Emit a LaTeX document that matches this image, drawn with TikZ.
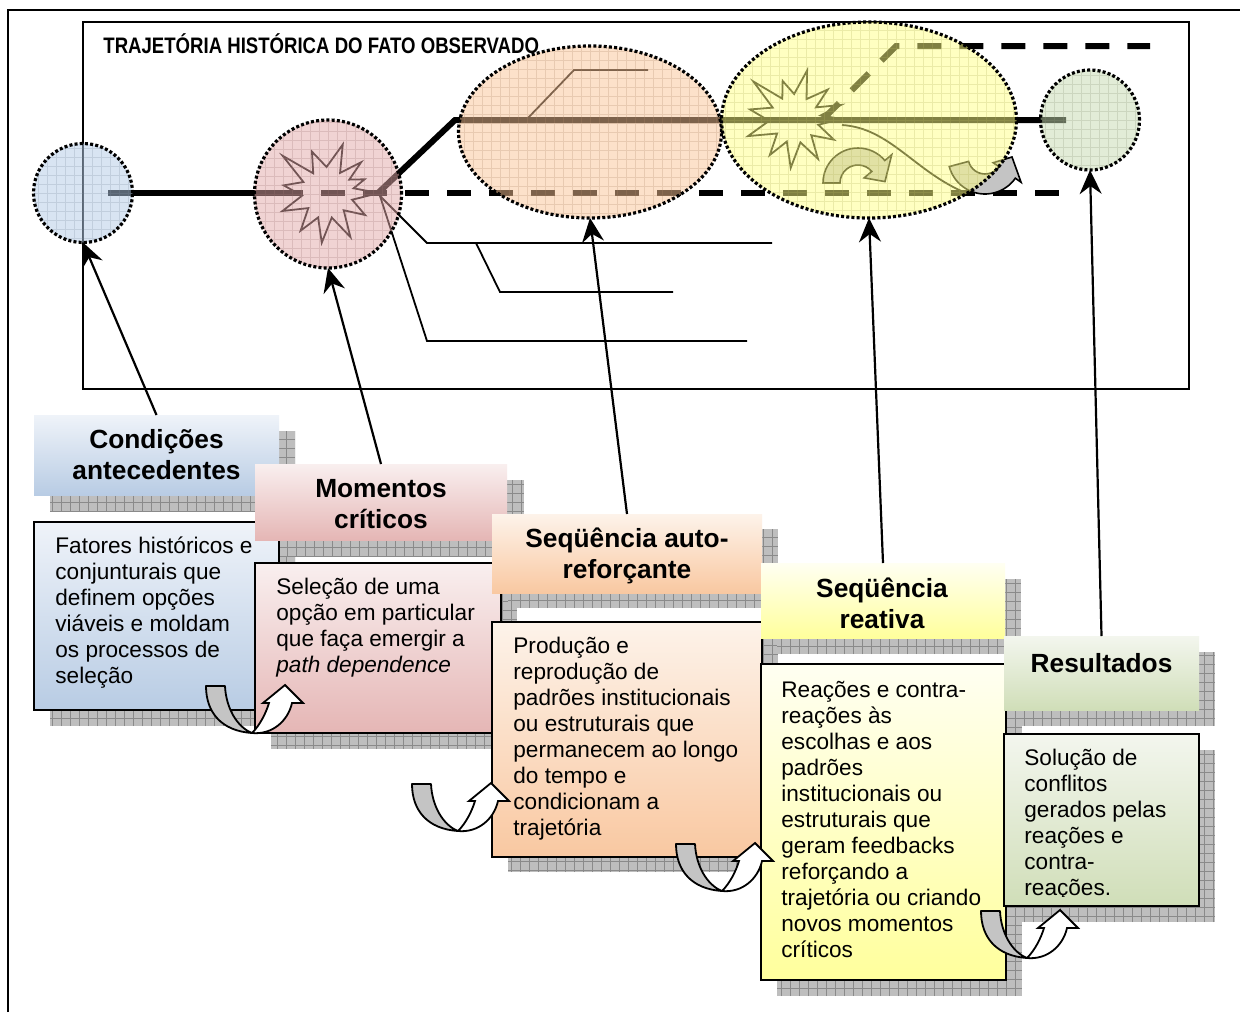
\documentclass[tikz,border=0pt]{standalone}
\usepackage{fontspec}
\setmainfont{Liberation Sans}
\usetikzlibrary{shapes.geometric,arrows.meta}

% bubble base colours (drawn half transparent)
\definecolor{bubBlue}{HTML}{B3CAE6}
\definecolor{bubPink}{HTML}{E3A9A9}
\definecolor{bubOrange}{HTML}{FAC496}
\definecolor{bubYellow}{HTML}{FFFF85}
\definecolor{bubGreen}{HTML}{C7DAB0}
% box gradients
\definecolor{blueTop}{HTML}{EFF3F9}\definecolor{blueBot}{HTML}{B8CCE4}
\definecolor{pinkTop}{HTML}{F9EFEF}\definecolor{pinkBot}{HTML}{E5B6B5}
\definecolor{orTop}{HTML}{FDF3EA}\definecolor{orBot}{HTML}{F9C8A1}
\definecolor{yelTop}{HTML}{FFFFF2}\definecolor{yelBot}{HTML}{FFFF9C}
\definecolor{grTop}{HTML}{F3F6EE}\definecolor{grBot}{HTML}{D0DEB8}
% shadows and arrows
\definecolor{shadowGray}{HTML}{BEBEBE}
\definecolor{shadowGrid}{HTML}{8A8A8A}
\definecolor{arrowGray}{HTML}{C4C4C4}

\newcommand\stackL[1]{\begin{tabular}[t]{@{}l@{}}#1\end{tabular}}
\newcommand\stackC[1]{\begin{tabular}[t]{@{}c@{}}#1\end{tabular}}

% U-shaped turning arrow whose lowest point is at (#1,#2)
\newcommand\turnarrow[2]{%
  \begin{scope}[shift={(#1,#2)}]
    \filldraw[fill=arrowGray,line width=0.9pt,line join=round]
      (-46,-47) .. controls (-46,-20) and (-30,-2) .. (0,0)
      .. controls (-15,-6) and (-26,-25) .. (-27,-47) -- cycle;
    \filldraw[fill=white,line width=0.9pt,line join=miter]
      (0,0) .. controls (8,-8) and (14,-20) .. (17,-30) -- (11,-30) -- (33,-48)
      -- (51,-30) -- (40,-30) .. controls (36,-12) and (20,2) .. (0,0) -- cycle;
  \end{scope}}

\begin{document}
\begin{tikzpicture}[x=0.5pt,y=-0.5pt,
  traj/.style={line width=3pt},
  dashtraj/.style={line width=3pt,dash pattern=on 12pt off 9pt},
  thinline/.style={line width=0.9pt},
  burst/.style={line width=0.9pt,line join=miter},
  conn/.style={line width=1.1pt,-{Stealth[length=12pt,width=11pt,inset=4pt]}},
  bubble/.style={ellipse,inner sep=0pt,outer sep=0pt,draw=black,line width=1.6pt,
    dash pattern=on 1.5pt off 1.1pt,fill=#1,fill opacity=0.5,
    path picture={\draw[#1!70!black,draw opacity=0.25,line width=0.3pt,solid,step=4.5pt]
      (path picture bounding box.south west) grid (path picture bounding box.north east);}},
  shadowbox/.style={fill=shadowGray,
    path picture={\draw[shadowGrid,line width=0.35pt,step=4.5pt]
      (path picture bounding box.south west) grid (path picture bounding box.north east);}},
  hdr/.style 2 args={rectangle,inner sep=0pt,outer sep=0pt,top color=#1,bottom color=#2,draw=none},
  bodybox/.style 2 args={rectangle,inner sep=0pt,outer sep=0pt,top color=#1,bottom color=#2,
    draw=black,line width=1.3pt},
  hdtext/.style={anchor=base,inner sep=0pt,font=\fontsize{13.15}{15.5}\selectfont\bfseries},
  bdtext/.style={anchor=base west,inner sep=0pt,font=\fontsize{11.3}{13}\selectfont}
]
\useasboundingbox (0,0) rectangle (1240,1012);
\fill[white] (0,0) rectangle (1240,1012);

% frames
\draw[line width=1.3pt] (8,1012) -- (8,10) -- (1240,10);
\draw[line width=1pt] (83,22) rectangle (1189,389);
\node[anchor=base west,inner sep=0pt,font=\fontsize{11.2}{13}\selectfont\bfseries] (title)
  at (103,53) {\scalebox{0.83}[1]{TRAJETÓRIA HISTÓRICA DO FATO OBSERVADO}};

% trajectory lines
\draw[traj] (108,193) -- (303,193);
\draw[dashtraj] (321,193) -- (1060,193);
\draw[traj,line join=miter] (378,193) -- (455,120) -- (1066,120);
\draw[dashtraj] (822,120) -- (896,46) -- (1150,46);
\draw[thinline] (527,119) -- (574,70) -- (648,70);
\draw[thinline] (842,125) .. controls (890,128) and (915,172) .. (966,193);

% explosions
\draw[burst,shift={(327,193)}] (0:52) -- (15:26) -- (30:44) -- (46:24) -- (62:50) -- (79:25)
  -- (96:50) -- (110:26) -- (125:46) -- (141:24) -- (158:48) -- (174:25) -- (190:44)
  -- (205:26) -- (220:58) -- (235:24) -- (250:44) -- (269:26) -- (288:51) -- (303:24)
  -- (318:46) -- (329:26) -- (340:40) -- (350:27) -- cycle;
\draw[burst,shift={(795,119)}] (0:46) -- (14:24) -- (28:44) -- (45:23) -- (60:46) -- (77:24)
  -- (95:49) -- (110:24) -- (125:44) -- (141:23) -- (160:50) -- (176:26) -- (192:46)
  -- (207:25) -- (222:56) -- (238:24) -- (252:40) -- (268:25) -- (284:50) -- (300:23)
  -- (318:44) -- (331:24) -- (343:48) -- (352:26) -- cycle;

% curved block arrows
\filldraw[fill=arrowGray,line width=0.8pt,line join=miter,shift={(858,183)}]
  (180:35) arc[start angle=180,end angle=320,radius=35] -- (320:44) -- (357:27)
  -- (320:8) -- (320:18) arc[start angle=320,end angle=180,radius=18] -- cycle;
\filldraw[fill=arrowGray,line width=0.8pt,line join=miter,shift={(985,157)}]
  (165:37) arc[start angle=165,end angle=35,radius=37] -- (35:44) -- (0:27)
  -- (35:10) -- (35:17) arc[start angle=35,end angle=165,radius=17] -- cycle;

% callout lines
\coordinate (fork) at (380,196);
\coordinate (k1) at (427,243); \coordinate (e1) at (772,243);
\coordinate (s2) at (476,243); \coordinate (k2) at (500,292); \coordinate (e2) at (673,292);
\coordinate (k3) at (427,341); \coordinate (e3) at (747,341);
\draw[thinline] (fork) -- (k1) -- (e1);
\draw[thinline] (s2) -- (k2) -- (e2);
\draw[thinline] (fork) -- (k3) -- (e3);

% bubbles
\node[bubble=bubBlue,minimum width=49.5pt,minimum height=49.5pt] (cA) at (83,193) {};
\node[bubble=bubPink,minimum width=73.5pt,minimum height=74pt] (cB) at (328,194) {};
\node[bubble=bubOrange,minimum width=131.5pt,minimum height=86pt] (cC) at (590,132) {};
\node[bubble=bubYellow,minimum width=147.5pt,minimum height=98pt] (cD) at (869,120) {};
\node[bubble=bubGreen,minimum width=49.5pt,minimum height=50pt] (cE) at (1090,120) {};

% shadows
\path[shadowbox,shift={(16,16)}] (34,415) rectangle (279,495);
\path[shadowbox,shift={(16,16)}] (34,522) rectangle (279,710);
\path[shadowbox,shift={(17,16)}] (255,464) rectangle (507,540);
\path[shadowbox,shift={(16,16)}] (255,563) rectangle (501,733);
\path[shadowbox,shift={(16,15)}] (492,514) rectangle (762,593);
\path[shadowbox,shift={(16,15)}] (492,622) rectangle (762,857);
\path[shadowbox,shift={(16,16)}] (761,563) rectangle (1005,638);
\path[shadowbox,shift={(16,16)}] (761,664) rectangle (1006,980);
\path[shadowbox,shift={(16,16)}] (1004,636) rectangle (1199,710);
\path[shadowbox,shift={(16,16)}] (1004,734) rectangle (1199,906);

% stage 1
\node[hdr={blueTop}{blueBot},minimum width=122.5pt,minimum height=40pt] (hA) at (156.5,455) {};
\node[hdtext] (tA) at (156.5,448) {\stackC{Condições\\antecedentes}};
\node[bodybox={blueTop}{blueBot},minimum width=122.5pt,minimum height=94pt] (bA) at (156.5,616) {};
\node[bdtext] (xA) at (55,553) {\stackL{Fatores históricos e\\conjunturais que\\definem opções\\viáveis e moldam\\os processos de\\seleção}};

% stage 2
\node[hdr={pinkTop}{pinkBot},minimum width=126pt,minimum height=38pt] (hB) at (381,502) {};
\node[hdtext] (tB) at (381,497) {\stackC{Momentos\\críticos}};
\node[bodybox={pinkTop}{pinkBot},minimum width=123pt,minimum height=85pt] (bB) at (378,648) {};
\node[bdtext] (xB) at (276,594) {\stackL{Seleção de uma\\opção em particular\\que faça emergir a\\\textit{path dependence}}};

% stage 3
\node[hdr={orTop}{orBot},minimum width=135pt,minimum height=39.5pt] (hC) at (627,553.5) {};
\node[hdtext] (tC) at (627,547) {\stackC{Seqüência auto-\\reforçante}};
\node[bodybox={orTop}{orBot},minimum width=135pt,minimum height=117.5pt] (bC) at (627,739.5) {};
\node[bdtext] (xC) at (513,653) {\stackL{Produção e\\reprodução de\\padrões institucionais\\ou estruturais que\\permanecem ao longo\\do tempo e\\condicionam a\\trajetória}};

% stage 4
\node[hdr={yelTop}{yelBot},minimum width=122pt,minimum height=37.5pt] (hD) at (883,600.5) {};
\node[hdtext] (tD) at (882,597) {\stackC{Seqüência\\reativa}};
\node[bodybox={yelTop}{yelBot},minimum width=122.5pt,minimum height=158pt] (bD) at (883.5,822) {};
\node[bdtext] (xD) at (781,697) {\stackL{Reações e contra-\\reações às\\escolhas e aos\\padrões\\institucionais ou\\estruturais que\\geram feedbacks\\reforçando a\\trajetória ou criando\\novos momentos\\críticos}};

% stage 5
\node[hdr={grTop}{grBot},minimum width=97.5pt,minimum height=37pt] (hE) at (1101.5,673) {};
\node[hdtext] (tE) at (1101.5,672) {Resultados};
\node[bodybox={grTop}{grBot},minimum width=97.5pt,minimum height=86pt] (bE) at (1101.5,820) {};
\begin{scope}
  \clip (1006,736) rectangle (1197,896);
  \node[bdtext] (xE) at (1024,765) {\stackL{Solução de\\conflitos\\gerados pelas\\reações e\\contra-\\reações.}};
\end{scope}

% turning arrows between stages
\turnarrow{252}{733}
\turnarrow{458}{831}
\turnarrow{722}{891}
\turnarrow{1027}{958}

% connectors from stage headers to bubbles
\draw[conn] (hA.north) -- (cA.south);
\draw[conn] (hB.north) -- (cB.south);
\draw[conn] (hC.north) -- (cC.south);
\draw[conn] (hD.north) -- (cD.south);
\draw[conn] (hE.north) -- (cE.south);
\end{tikzpicture}
\end{document}
